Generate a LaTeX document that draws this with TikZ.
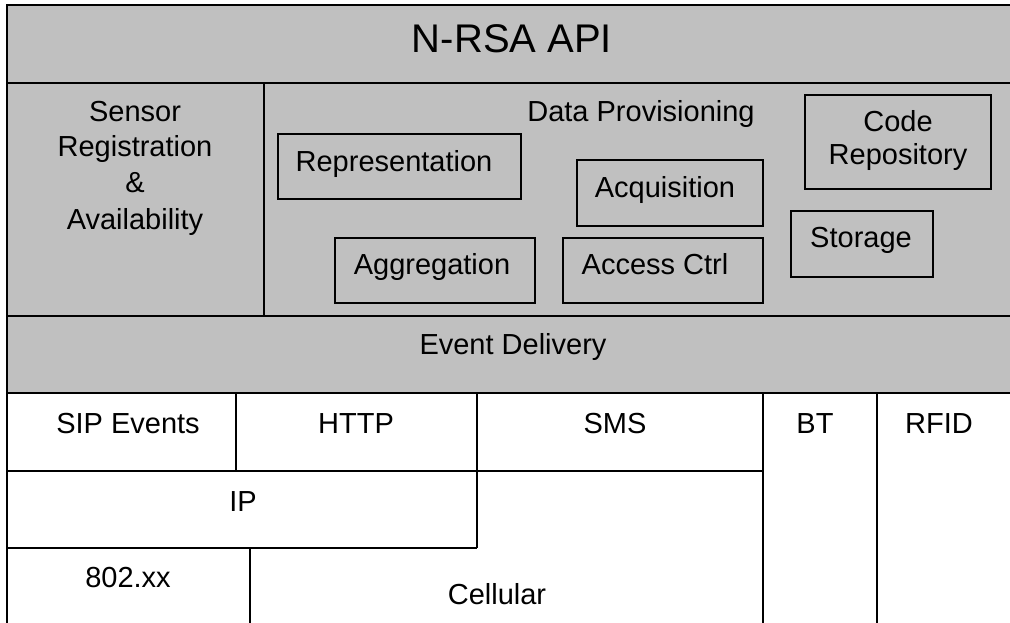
\documentclass[tikz,border=0pt]{standalone}
\usepackage{fontspec}
\setmainfont{Liberation Sans}
\begin{document}
\begin{tikzpicture}[x=0.75pt,y=-0.75pt,
  frame/.style={draw=black,line width=1.5pt},
  inner/.style={draw=black,line width=1.2pt},
  lbl/.style={anchor=base,inner sep=0pt,font=\fontsize{21.75}{27}\selectfont},
  title/.style={anchor=base,inner sep=0pt,font=\fontsize{30}{36}\selectfont}]
\useasboundingbox (0,0) rectangle (1010,623);
% gray upper area
\fill[fill={rgb,255:red,192;green,192;blue,192}] (7,5) rectangle (1014,393);
\fill[white] (7,393) rectangle (1014,626);
% frame lines
\draw[frame] (1014,5) -- (7,5) -- (7,626);
\draw[frame] (7,83) -- (1014,83);
\draw[frame] (7,316) -- (1014,316);
\draw[frame] (7,393) -- (1014,393);
\draw[frame] (264,83) -- (264,316);
\draw[frame] (7,471) -- (763,471);
\draw[frame] (236,393) -- (236,471);
\draw[frame] (477,393) -- (477,548);
\draw[frame] (7,548) -- (477,548);
\draw[frame] (250,548) -- (250,626);
\draw[frame] (763,393) -- (763,626);
\draw[frame] (877,393) -- (877,626);
% inner boxes
\draw[inner] (278,134) rectangle (521,199);
\draw[inner] (577,160) rectangle (763,226);
\draw[inner] (335,238) rectangle (535,303);
\draw[inner] (563,238) rectangle (763,303);
\draw[inner] (805,95) rectangle (991,189);
\draw[inner] (791,211) rectangle (933,277);
% texts
\node[title] (api) at (512,53) {N-RSA API};
\node[lbl] (s1) at (135,122) {Sensor};
\node[lbl] (s2) at (135,157) {Registration};
\node[lbl] (s3) at (135,193) {\&};
\node[lbl] (s4) at (135,230) {Availability};
\node[lbl] (dp) at (641,122) {Data Provisioning};
\node[lbl] (rep) at (394,172) {Representation};
\node[lbl] (acq) at (665,198) {Acquisition};
\node[lbl] (agg) at (432,275) {Aggregation};
\node[lbl] (acc) at (655,275) {Access Ctrl};
\node[lbl] (code1) at (898,132) {Code};
\node[lbl] (code2) at (898,165) {Repository};
\node[lbl] (sto) at (861,248) {Storage};
\node[lbl] (ev) at (513,355) {Event Delivery};
\node[lbl] (sip) at (128,433) {SIP Events};
\node[lbl] (http) at (356,433) {HTTP};
\node[lbl] (sms) at (615,433) {SMS};
\node[lbl] (bt) at (815,433) {BT};
\node[lbl] (rfid) at (939,433) {RFID};
\node[lbl] (ip) at (243,511) {IP};
\node[lbl] (wifi) at (128,587) {802.xx};
\node[lbl] (cell) at (497,604) {Cellular};
\end{tikzpicture}
\end{document}
